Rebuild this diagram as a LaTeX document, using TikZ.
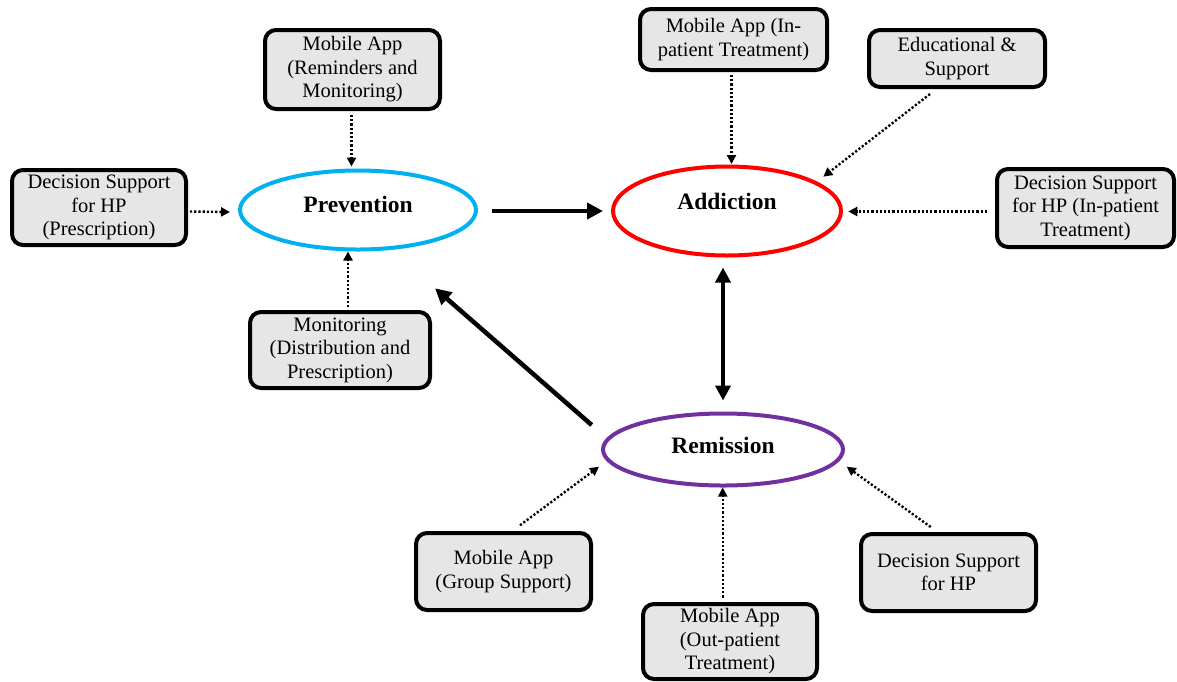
\documentclass[tikz,border=0pt]{standalone}
\usepackage{fontspec}
\setmainfont{Liberation Serif}
\usetikzlibrary{arrows.meta,shapes.geometric}
\definecolor{boxgray}{HTML}{E6E6E6}
\definecolor{prevblue}{HTML}{00B0F0}
\definecolor{addred}{HTML}{FF0000}
\definecolor{rempurple}{HTML}{7030A0}
\begin{document}
\begin{tikzpicture}[x=1pt,y=-1pt,
  box/.style={draw=black, line width=4pt, fill=boxgray, rounded corners=11pt,
    align=center, inner sep=0pt, outer sep=0pt,
    font=\fontsize{20.5}{23.5}\selectfont},
  state/.style={ellipse, line width=4pt, inner sep=0pt, outer sep=0pt},
  statelab/.style={font=\fontsize{23.5}{27}\selectfont\bfseries, inner sep=0pt},
  dotarr/.style={line width=2.4pt, dash pattern=on 2.2pt off 2pt,
    -{Triangle[length=9pt,width=9pt]}},
  thickarr/.style={line width=4.5pt, -{Triangle[length=16pt,width=16pt]}},
  dblarr/.style={line width=4.5pt, {Triangle[length=15pt,width=15pt]}-{Triangle[length=15pt,width=15pt]}}
]
\useasboundingbox (0,0) rectangle (1177,681);

% states
\node[state, draw=prevblue, minimum width=236pt, minimum height=79pt,
  label={[statelab, yshift=6pt]center:Prevention}] (prev) at (358,210) {};
\node[state, draw=addred, minimum width=228pt, minimum height=89pt,
  label={[statelab, yshift=9.7pt]center:Addiction}] (add) at (727,211) {};
\node[state, draw=rempurple, minimum width=240pt, minimum height=72pt,
  label={[statelab, yshift=4.5pt]center:Remission}] (rem) at (723,449.5) {};

% boxes
\node[box, minimum width=174pt, minimum height=75pt] (dspres) at (99,207.5)
  {Decision Support\\for HP\\(Prescription)};
\node[box, minimum width=175pt, minimum height=79pt] (apprem) at (352.5,69.5)
  {Mobile App\\(Reminders and\\Monitoring)};
\node[box, minimum width=187pt, minimum height=61pt] (appin) at (733.5,39.5)
  {Mobile App (In-\\patient Treatment)};
\node[box, minimum width=176pt, minimum height=57pt] (edu) at (957,58.5)
  {Educational \&\\Support};
\node[box, minimum width=177pt, minimum height=78pt] (dsin) at (1085.5,208)
  {Decision Support\\for HP (In-patient\\Treatment)};
\node[box, minimum width=180pt, minimum height=76pt] (mon) at (340,350)
  {Monitoring\\(Distribution and\\Prescription)};
\node[box, minimum width=175pt, minimum height=77pt] (grp) at (503.5,571.5)
  {Mobile App\\(Group Support)};
\node[box, minimum width=174pt, minimum height=75pt] (outp) at (730,641.5)
  {Mobile App\\(Out-patient\\Treatment)};
\node[box, minimum width=175pt, minimum height=77pt] (dshp) at (948.5,572.5)
  {Decision Support\\for HP};

% main cycle
\draw[thickarr] ([shift={(16,1)}]prev.east) -- ([shift={(-10,0)}]add.west);
\draw[dblarr] ([shift={(-4,12)}]add.south) -- ([shift={(0,-13)}]rem.north);
\draw[thickarr] ([shift={(-11.3,-24.5)}]rem.west) -- ([shift={(77,38.8)}]prev.south);

% dotted inputs
\draw[dotarr] ([shift={(4,4)}]dspres.east) -- ([shift={(-10,2)}]prev.west);
\draw[dotarr] ([shift={(-1,6)}]apprem.south) -- ([shift={(-6.5,-4)}]prev.north);
\draw[dotarr] ([shift={(8,-5)}]mon.north) -- ([shift={(-10,2)}]prev.south);
\draw[dotarr] ([shift={(-2,5)}]appin.south) -- ([shift={(4.5,-2.5)}]add.north);
\draw[dotarr] ([shift={(-27,7)}]edu.south) -- ([shift={(-17.7,-34.3)}]add.east);
\draw[dotarr] ([shift={(-10,3.5)}]dsin.west) -- ([shift={(7.3,0.5)}]add.east);
\draw[dotarr] ([shift={(16.5,-7.75)}]grp.north) -- ([shift={(-4,17.2)}]rem.west);
\draw[dotarr] ([shift={(-7.3,-6.5)}]outp.north) -- ([shift={(-0.3,2)}]rem.south);
\draw[dotarr] ([shift={(-17.8,-7)}]dshp.north) -- ([shift={(3.7,17.2)}]rem.east);
\end{tikzpicture}
\end{document}
